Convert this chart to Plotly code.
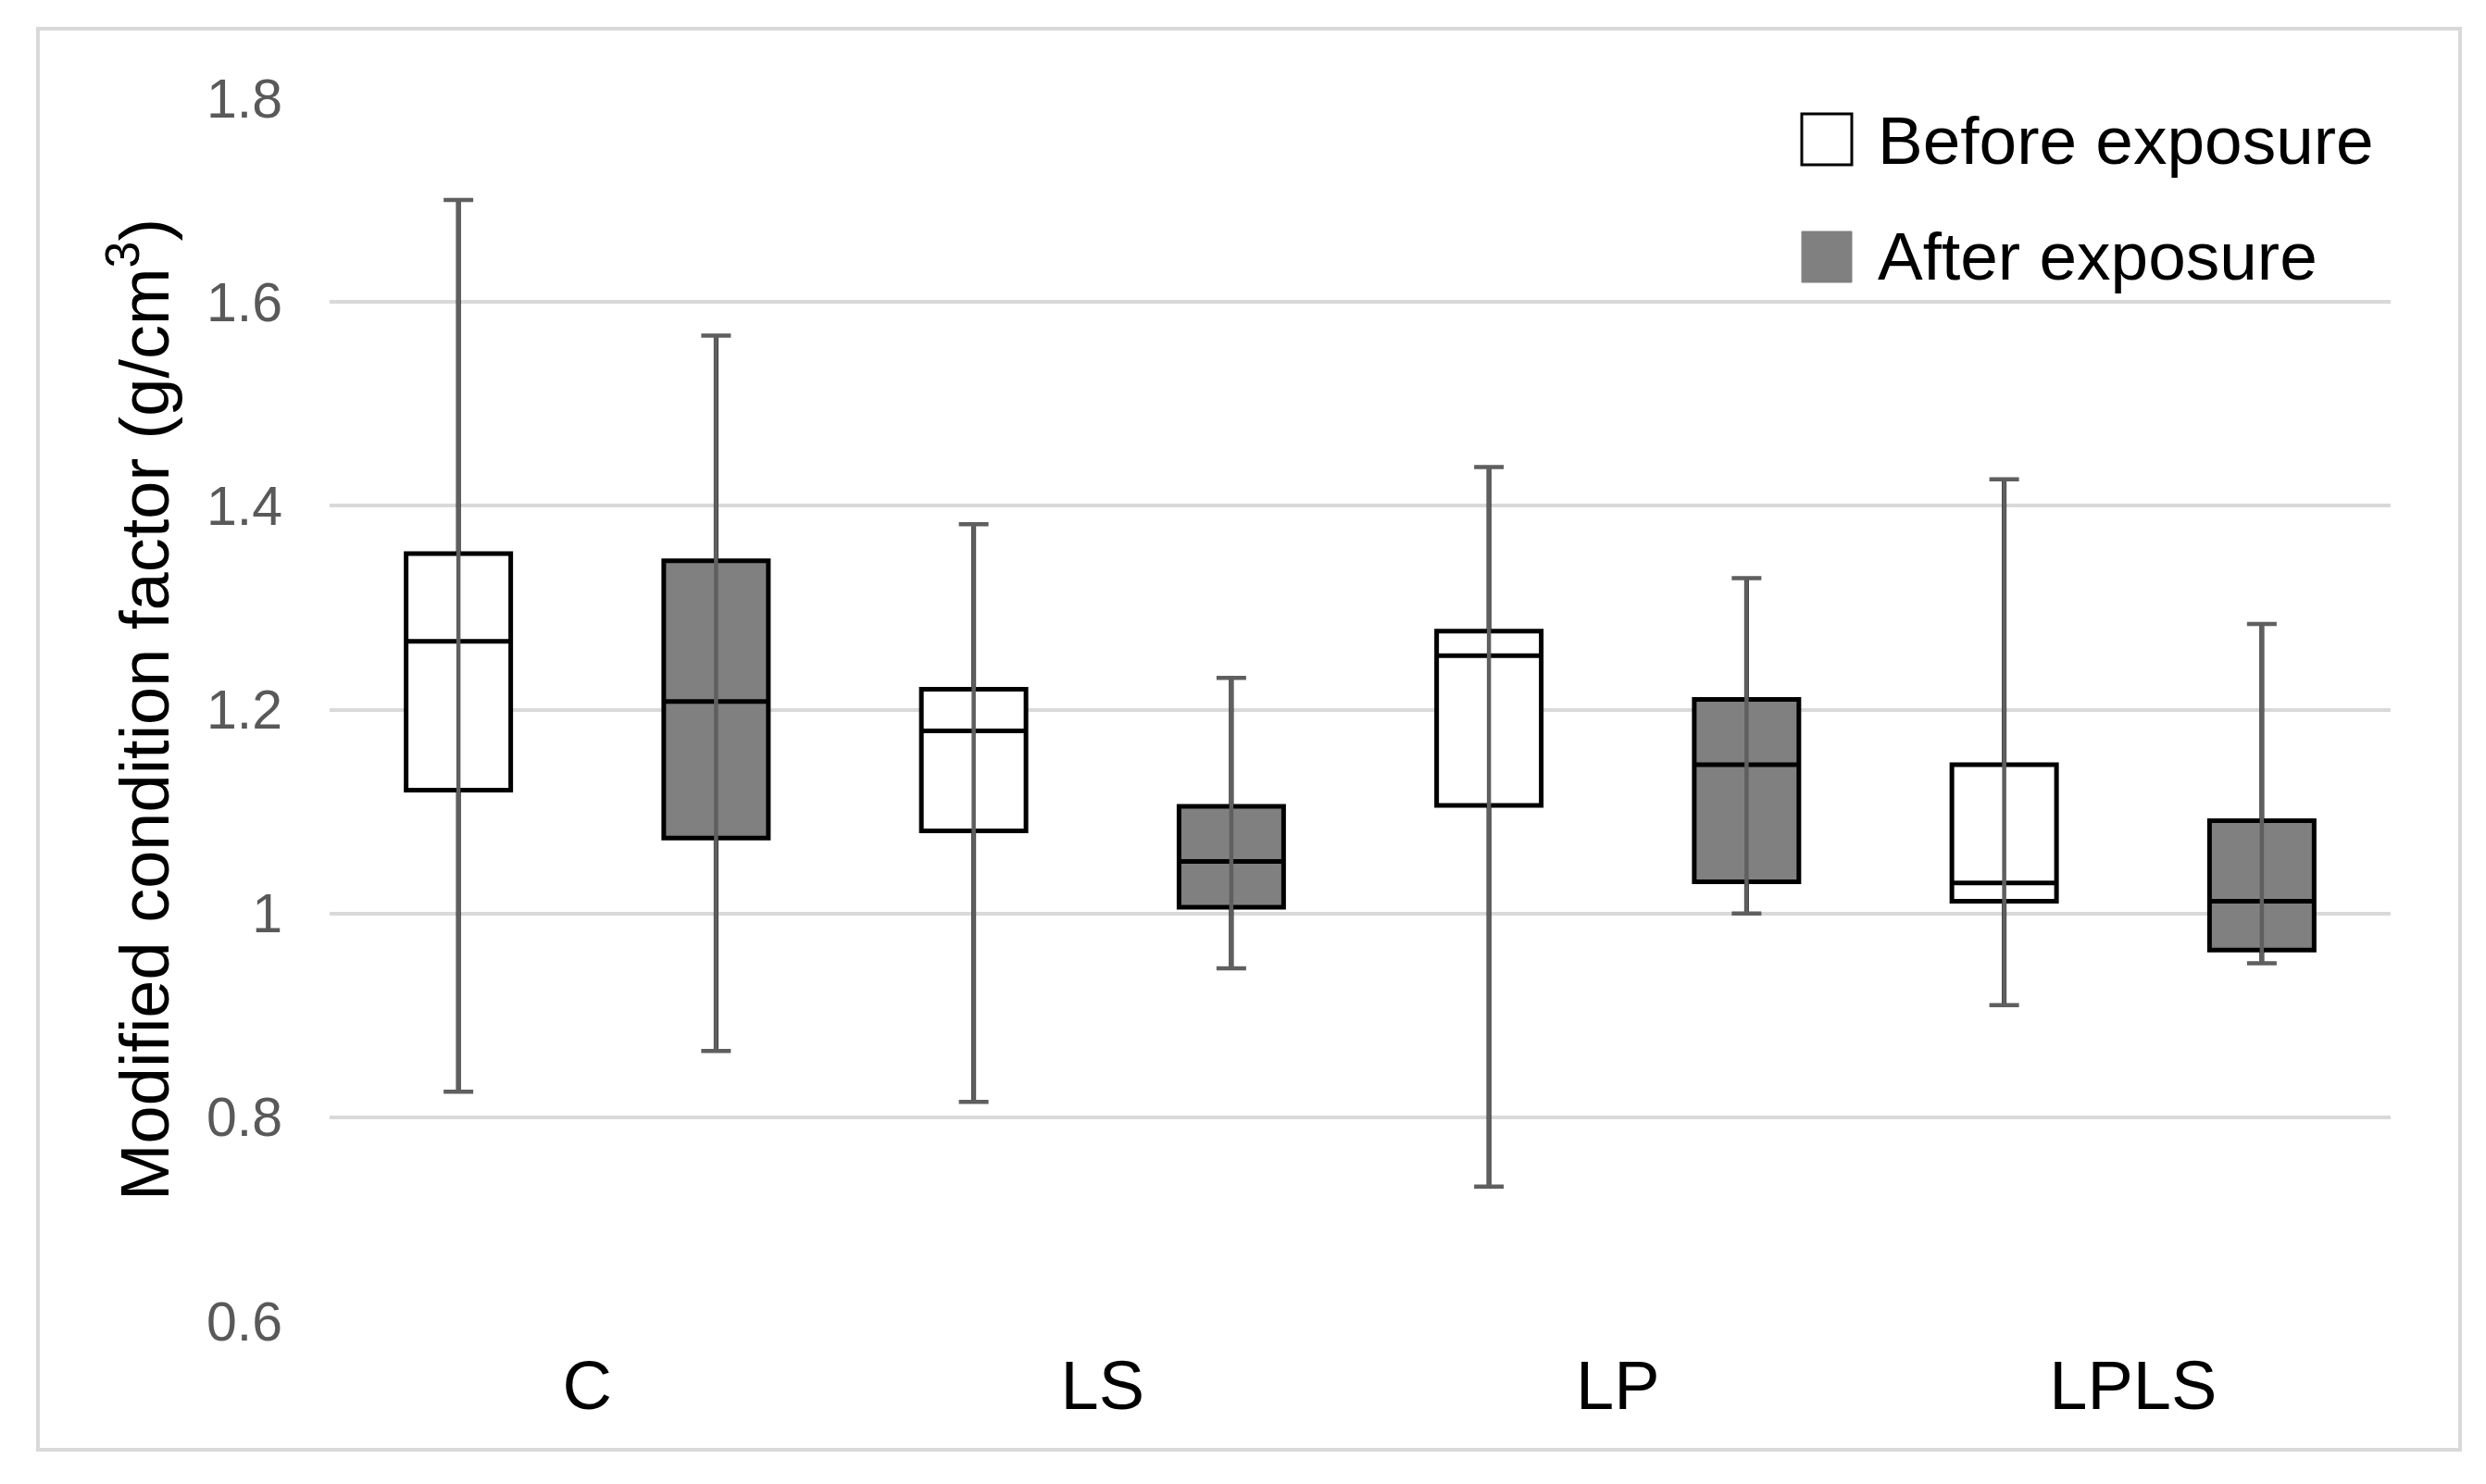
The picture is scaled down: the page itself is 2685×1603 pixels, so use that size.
import plotly.graph_objects as go

categories = ["C", "LS", "LP", "LPLS"]

before_min = [0.825, 0.815, 0.732, 0.910]
before_q1 = [1.121, 1.081, 1.106, 1.012]
before_median = [1.267, 1.179, 1.253, 1.030]
before_q3 = [1.353, 1.220, 1.277, 1.146]
before_max = [1.700, 1.382, 1.438, 1.426]

after_min = [0.865, 0.946, 1.000, 0.951]
after_q1 = [1.074, 1.006, 1.031, 0.964]
after_median = [1.208, 1.051, 1.146, 1.012]
after_q3 = [1.346, 1.105, 1.210, 1.091]
after_max = [1.567, 1.231, 1.329, 1.284]

y_tickvals = [0.6, 0.8, 1.0, 1.2, 1.4, 1.6, 1.8]
y_ticktext = ["0.6", "0.8", "1", "1.2", "1.4", "1.6", "1.8"]

series_names = ["Before exposure", "After exposure"]

FONT = "Liberation Sans, Arial, sans-serif"
W, H = 2685, 1603          # page size
OFF = 8                    # default body margin of the page
ML, MR, MT, MB = 356, 103, 106, 176   # plot area in page pixels
PW, PH = W - ML - MR, H - MT - MB


def px_x(p):
    return (p - ML) / PW


def px_y(p):
    return (H - MB - p) / PH


fig = go.Figure()

series = [
    (series_names[0], "before", before_min, before_q1, before_median, before_q3, before_max, "white"),
    (series_names[1], "after", after_min, after_q1, after_median, after_q3, after_max, "#808080"),
]

for name, grp, mn, q1, med, q3, mx, fill in series:
    fig.add_trace(go.Box(
        x=categories, q1=q1, median=med, q3=q3,
        lowerfence=mn, upperfence=mx,
        name=name, offsetgroup=grp,
        fillcolor=fill, line=dict(color="black", width=5),
        whiskerwidth=0, showlegend=False, boxpoints=False,
    ))

for name, grp, mn, q1, med, q3, mx, fill in series:
    fig.add_trace(go.Scatter(
        x=categories, y=med, mode="markers",
        marker=dict(size=1, color="rgba(0,0,0,0)"),
        offsetgroup=grp, showlegend=False, hoverinfo="skip",
        error_y=dict(
            type="data", symmetric=False,
            array=[b - a for a, b in zip(med, mx)],
            arrayminus=[a - b for a, b in zip(med, mn)],
            color="#5f5f5f", thickness=4.5, width=16,
        ),
    ))

# legend entries (text) with large swatches drawn as shapes
legend_rows = [px_y(149), px_y(274)]
for i, name in enumerate(series_names):
    fig.add_trace(go.Scatter(
        x=[None], y=[None], mode="markers", name=name,
        marker=dict(size=1, color="rgba(0,0,0,0)"),
        legend="legend" if i == 0 else "legend2",
    ))

legend_common = dict(
    xanchor="left", yanchor="middle", bgcolor="rgba(0,0,0,0)",
    font=dict(family=FONT, size=73, color="black"),
    itemwidth=30, borderwidth=0,
)

fig.update_layout(
    width=W - OFF, height=H - OFF,
    margin=dict(l=ML - OFF, r=MR, t=MT - OFF, b=MB),
    paper_bgcolor="white", plot_bgcolor="white",
    boxmode="group", boxgap=0, boxgroupgap=0.594,
    scattermode="group", scattergap=0,
    font=dict(family=FONT),
    legend=dict(x=px_x(1988), y=legend_rows[0], **legend_common),
    legend2=dict(x=px_x(1988), y=legend_rows[1], **legend_common),
    xaxis=dict(
        type="category", categoryorder="array", categoryarray=categories,
        showgrid=False, showline=False, zeroline=False, ticks="",
        tickfont=dict(family=FONT, size=74, color="black"),
        ticklabelstandoff=20,
    ),
    yaxis=dict(
        range=[0.6, 1.8], tickvals=y_tickvals, ticktext=y_ticktext,
        showgrid=True, gridcolor="#d9d9d9", gridwidth=4,
        zeroline=False, showline=False, ticks="",
        tickfont=dict(family=FONT, size=59, color="#595959"),
        ticklabelstandoff=50,
        title=dict(text="Modified condition factor (g/cm<sup>3</sup>)",
                   font=dict(family=FONT, size=74, color="black"), standoff=16),
    ),
    shapes=[
        dict(type="rect", xref="paper", yref="paper",
             x0=px_x(41), x1=px_x(2657), y0=px_y(1566), y1=px_y(31),
             line=dict(color="#d9d9d9", width=4), fillcolor="rgba(0,0,0,0)", layer="below"),
        dict(type="rect", xref="paper", yref="paper",
             x0=px_x(1946), x1=px_x(2000), y0=px_y(178), y1=px_y(123),
             line=dict(color="black", width=3), fillcolor="white"),
        dict(type="rect", xref="paper", yref="paper",
             x0=px_x(1946), x1=px_x(2000), y0=px_y(305), y1=px_y(250),
             line=dict(color="#808080", width=1), fillcolor="#808080"),
    ],
)

fig.write_html("out.html")
